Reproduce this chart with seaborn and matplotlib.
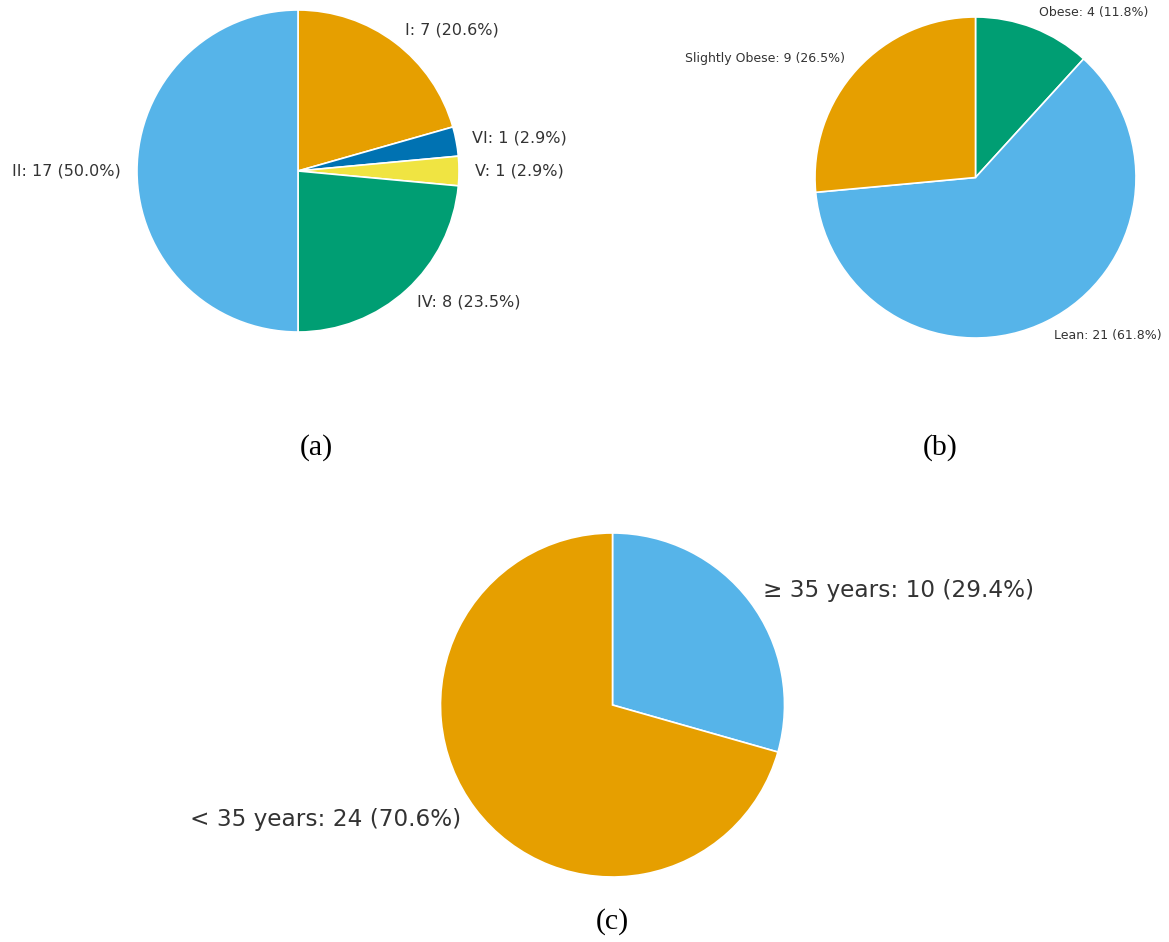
import matplotlib
matplotlib.use("Agg")
import matplotlib.pyplot as plt
import seaborn as sns

# Phenotype distribution (a)
types = ["I", "VI", "V", "IV", "II"]
type_counts = [7, 1, 1, 8, 17]

# Body-weight category (b)
bmi_groups = ["Obese", "Lean", "Slightly Obese"]
bmi_counts = [4, 21, 9]

# Age group (c)
age_groups = ["\u2265 35 years", "< 35 years"]
age_counts = [10, 24]

ORANGE = "#E69F00"
SKY = "#56B4E9"
GREEN = "#009E73"
BLUE = "#0072B2"
YELLOW = "#F0E442"

type_colors = [ORANGE, BLUE, YELLOW, GREEN, SKY]
bmi_colors = [GREEN, SKY, ORANGE]
age_colors = [SKY, ORANGE]

sns.set_theme(style="white")
plt.rcParams["font.family"] = ["DejaVu Sans"]

W, H = 1169, 942
fig = plt.figure(figsize=(W / 100, H / 100), dpi=100)


def pie_axes(cx, cy, r):
    """Axes whose box is the square of side 2r centred on (cx, cy) in pixels."""
    return fig.add_axes([(cx - r) / W, 1 - (cy + r) / H, 2 * r / W, 2 * r / H])


def labels_for(names, counts):
    total = sum(counts)
    return [f"{n}: {c} ({100 * c / total:.1f}%)" for n, c in zip(names, counts)]


def draw_pie(ax, names, counts, colors, fontsize):
    ax.pie(
        counts,
        labels=labels_for(names, counts),
        colors=colors,
        startangle=90,
        counterclock=False,
        labeldistance=1.1,
        wedgeprops=dict(edgecolor="white", linewidth=1.2),
        textprops=dict(fontsize=fontsize, color="#333333"),
    )
    ax.set_xlim(-1, 1)
    ax.set_ylim(-1, 1)
    ax.set_aspect("equal")
    ax.axis("off")


ax_a = pie_axes(298, 171, 161)
draw_pie(ax_a, types, type_counts, type_colors, 11.5)

ax_b = pie_axes(975.5, 177.5, 160.5)
draw_pie(ax_b, bmi_groups, bmi_counts, bmi_colors, 9)

ax_c = pie_axes(612.5, 705, 172)
draw_pie(ax_c, age_groups, age_counts, age_colors, 16.7)

serif = dict(family=["Liberation Serif", "DejaVu Serif"], fontsize=21.5,
             ha="center", va="center", color="black")
fig.text(316 / W, 1 - 448 / H, "(a)", **serif)
fig.text(940 / W, 1 - 448 / H, "(b)", **serif)
fig.text(612 / W, 1 - 922 / H, "(c)", **serif)

fig.savefig("out.png", dpi=100, facecolor="white")
